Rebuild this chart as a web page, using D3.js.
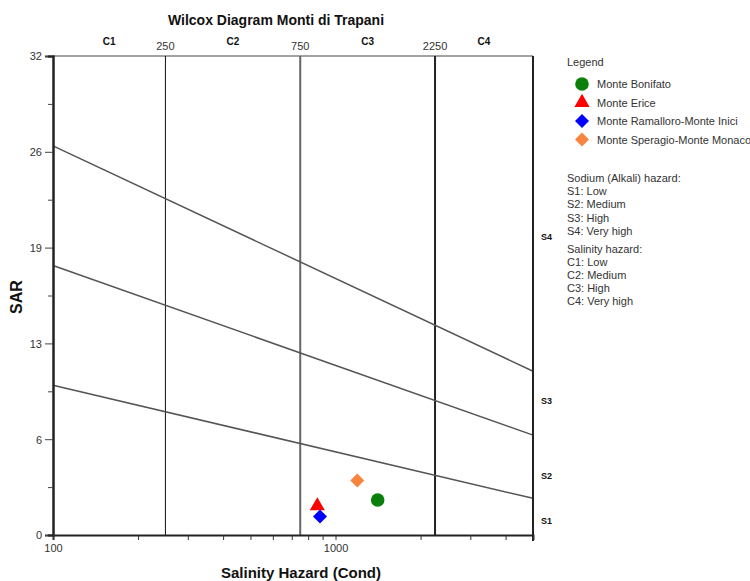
<!DOCTYPE html>
<html>
<head>
<meta charset="utf-8">
<script src="https://cdn.jsdelivr.net/npm/d3@7"></script>
<style>
  body { margin: 0; background: #fff; }
  text { font-family: "Liberation Sans", Arial, sans-serif; fill: #111; }
</style>
</head>
<body>
<script>
"use strict";

// data
var sites = ["Monte Bonifato", "Monte Erice", "Monte Ramalloro-Monte Inici", "Monte Speragio-Monte Monaco"];
var conductivity = [1410, 862, 881, 1194];
var sar = [2.34, 1.94, 1.23, 3.64];

var condDomain = [100, 5000];
var condTicks = [100, 200, 300, 400, 500, 600, 700, 800, 900, 1000, 2000, 3000, 4000, 5000];
var condTickLabels = [100, 1000];

var sarDomain = [0, 32];
var sarTicks = [0, 6.4, 12.8, 19.2, 25.6, 32];
var sarMinorTicks = [3.2, 9.6, 16, 22.4, 28.8];

var salinityBreaks = [250, 750, 2250];
var salinityClasses = ["C1", "C2", "C3", "C4"];

// sodium hazard boundaries, SAR at EC = 100 and EC = 5000
var sodiumAt100 = [10, 18, 26];
var sodiumAt5000 = [2.45, 6.67, 10.94];
var sodiumClasses = ["S1", "S2", "S3", "S4"];
var sodiumLabelSar = [1, 4, 9, 20];

var sodiumNotes = ["Sodium (Alkali) hazard:", "S1: Low", "S2: Medium", "S3: High", "S4: Very high"];
var salinityNotes = ["Salinity hazard:", "C1: Low", "C2: Medium", "C3: High", "C4: Very high"];

// styles
var colors = ["#0a800a", "#ff0000", "#0000ff", "#f8843f"];
var shapes = ["circle", "triangle", "diamond", "diamond"];
var breakColors = ["#111", "#666", "#222"];
var breakWidths = [1, 2, 2];

var width = 750, height = 581;
var plotL = 53, plotR = 533, plotT = 56, plotB = 535;

var svg = d3.select("body").append("svg")
  .attr("width", width)
  .attr("height", height);

var x = d3.scaleLog().domain(condDomain).range([plotL, plotR]);
var y = d3.scaleLinear().domain(sarDomain).range([plotB, plotT]);

function symbolPath(shape) {
  if (shape == "circle") return d3.symbol().type(d3.symbolCircle).size(145)();
  if (shape == "triangle") return d3.symbol().type(d3.symbolTriangle).size(100)();
  return d3.symbol().type(d3.symbolSquare).size(98)();
}
function symbolRot(shape) { return shape == "diamond" ? " rotate(45)" : ""; }

// title
svg.append("text")
  .attr("x", 276).attr("y", 25)
  .attr("text-anchor", "middle")
  .style("font-size", "14px").style("font-weight", "bold")
  .text("Wilcox Diagram Monti di Trapani");

// frame top
svg.append("line")
  .attr("x1", plotL).attr("x2", plotR).attr("y1", plotT).attr("y2", plotT)
  .attr("stroke", "#444").attr("stroke-width", 1);

// salinity class breaks
svg.selectAll(".brk")
  .data(salinityBreaks).enter()
  .append("line")
  .attr("class", "brk")
  .attr("x1", d => x(d)).attr("x2", d => x(d))
  .attr("y1", plotT).attr("y2", plotB)
  .attr("stroke", (d, i) => breakColors[i])
  .attr("stroke-width", (d, i) => breakWidths[i]);

svg.selectAll(".brklab")
  .data(salinityBreaks).enter()
  .append("text")
  .attr("x", d => x(d)).attr("y", 50)
  .attr("text-anchor", "middle")
  .style("font-size", "11px")
  .style("fill", "#333")
  .text(d => d);

var edges = [condDomain[0]].concat(salinityBreaks, [condDomain[1]]);
svg.selectAll(".clab")
  .data(salinityClasses).enter()
  .append("text")
  .attr("x", (d, i) => x(Math.sqrt(edges[i] * edges[i + 1])))
  .attr("y", 45)
  .attr("text-anchor", "middle")
  .style("font-size", "10px").style("font-weight", "bold")
  .text(d => d);

// sodium hazard lines
svg.selectAll(".sline")
  .data(sodiumAt100).enter()
  .append("line")
  .attr("class", "sline")
  .attr("x1", x(condDomain[0])).attr("y1", d => y(d))
  .attr("x2", x(condDomain[1])).attr("y2", (d, i) => y(sodiumAt5000[i]))
  .attr("stroke", "#555").attr("stroke-width", 1.5);

svg.selectAll(".slab")
  .data(sodiumClasses).enter()
  .append("text")
  .attr("x", 541).attr("y", (d, i) => y(sodiumLabelSar[i]) + 4)
  .style("font-size", "9px").style("font-weight", "bold")
  .text(d => d);

// right border
svg.append("line")
  .attr("x1", plotR).attr("x2", plotR).attr("y1", plotT).attr("y2", plotB + 6)
  .attr("stroke", "#222").attr("stroke-width", 2);

// axes
var yAxis = svg.append("g")
  .attr("transform", "translate(" + plotL + ",0)")
  .call(d3.axisLeft(y).tickValues(sarTicks).tickSize(8).tickFormat(d3.format(".0f")));
yAxis.append("g")
  .call(d3.axisLeft(y).tickValues(sarMinorTicks).tickSize(5).tickFormat(""));
yAxis.selectAll(".domain").attr("stroke", "#222").attr("stroke-width", 2);
yAxis.selectAll(".tick line").attr("stroke", "#444");
yAxis.selectAll("text").style("font-size", "11px").style("fill", "#333").attr("dy", "0.35em");

var xAxis = svg.append("g")
  .attr("transform", "translate(0," + plotB + ")")
  .call(d3.axisBottom(x).tickValues(condTicks).tickSize(5)
    .tickFormat(d => condTickLabels.indexOf(d) >= 0 ? d : ""));
xAxis.selectAll(".domain").attr("stroke", "#222").attr("stroke-width", 2);
xAxis.selectAll(".tick line").attr("stroke", "#333");
xAxis.selectAll("text").style("font-size", "11px").style("fill", "#333").attr("y", 9);

// axis titles
svg.append("text")
  .attr("transform", "translate(22,297) rotate(-90)")
  .attr("text-anchor", "middle")
  .style("font-size", "16px").style("font-weight", "bold")
  .text("SAR");

svg.append("text")
  .attr("x", 301).attr("y", 578)
  .attr("text-anchor", "middle")
  .style("font-size", "15px").style("font-weight", "bold")
  .text("Salinity Hazard (Cond)");

// samples
svg.selectAll(".pt")
  .data(sites).enter()
  .append("path")
  .attr("class", "pt")
  .attr("d", (d, i) => symbolPath(shapes[i]))
  .attr("transform", (d, i) => "translate(" + x(conductivity[i]) + "," + y(sar[i]) + ")" + symbolRot(shapes[i]))
  .attr("fill", (d, i) => colors[i]);

// legend
var lg = svg.append("g");
lg.append("text")
  .attr("x", 567).attr("y", 66)
  .style("font-size", "11px").style("fill", "#333")
  .text("Legend");

var items = lg.selectAll(".item")
  .data(sites).enter()
  .append("g")
  .attr("transform", (d, i) => "translate(582," + (84 + i * 18.5) + ")");
items.append("path")
  .attr("d", (d, i) => symbolPath(shapes[i]))
  .attr("transform", (d, i) => symbolRot(shapes[i]).trim())
  .attr("fill", (d, i) => colors[i]);
items.append("text")
  .attr("x", 15).attr("y", 4)
  .style("font-size", "11px").style("fill", "#333")
  .text(d => d);

lg.selectAll(".snote")
  .data(sodiumNotes).enter()
  .append("text")
  .attr("x", 567).attr("y", (d, i) => 182 + i * 13.2)
  .style("font-size", "11px").style("fill", "#333")
  .text(d => d);

lg.selectAll(".cnote")
  .data(salinityNotes).enter()
  .append("text")
  .attr("x", 567).attr("y", (d, i) => 253 + i * 13)
  .style("font-size", "11px").style("fill", "#333")
  .text(d => d);
</script>
</body>
</html>
